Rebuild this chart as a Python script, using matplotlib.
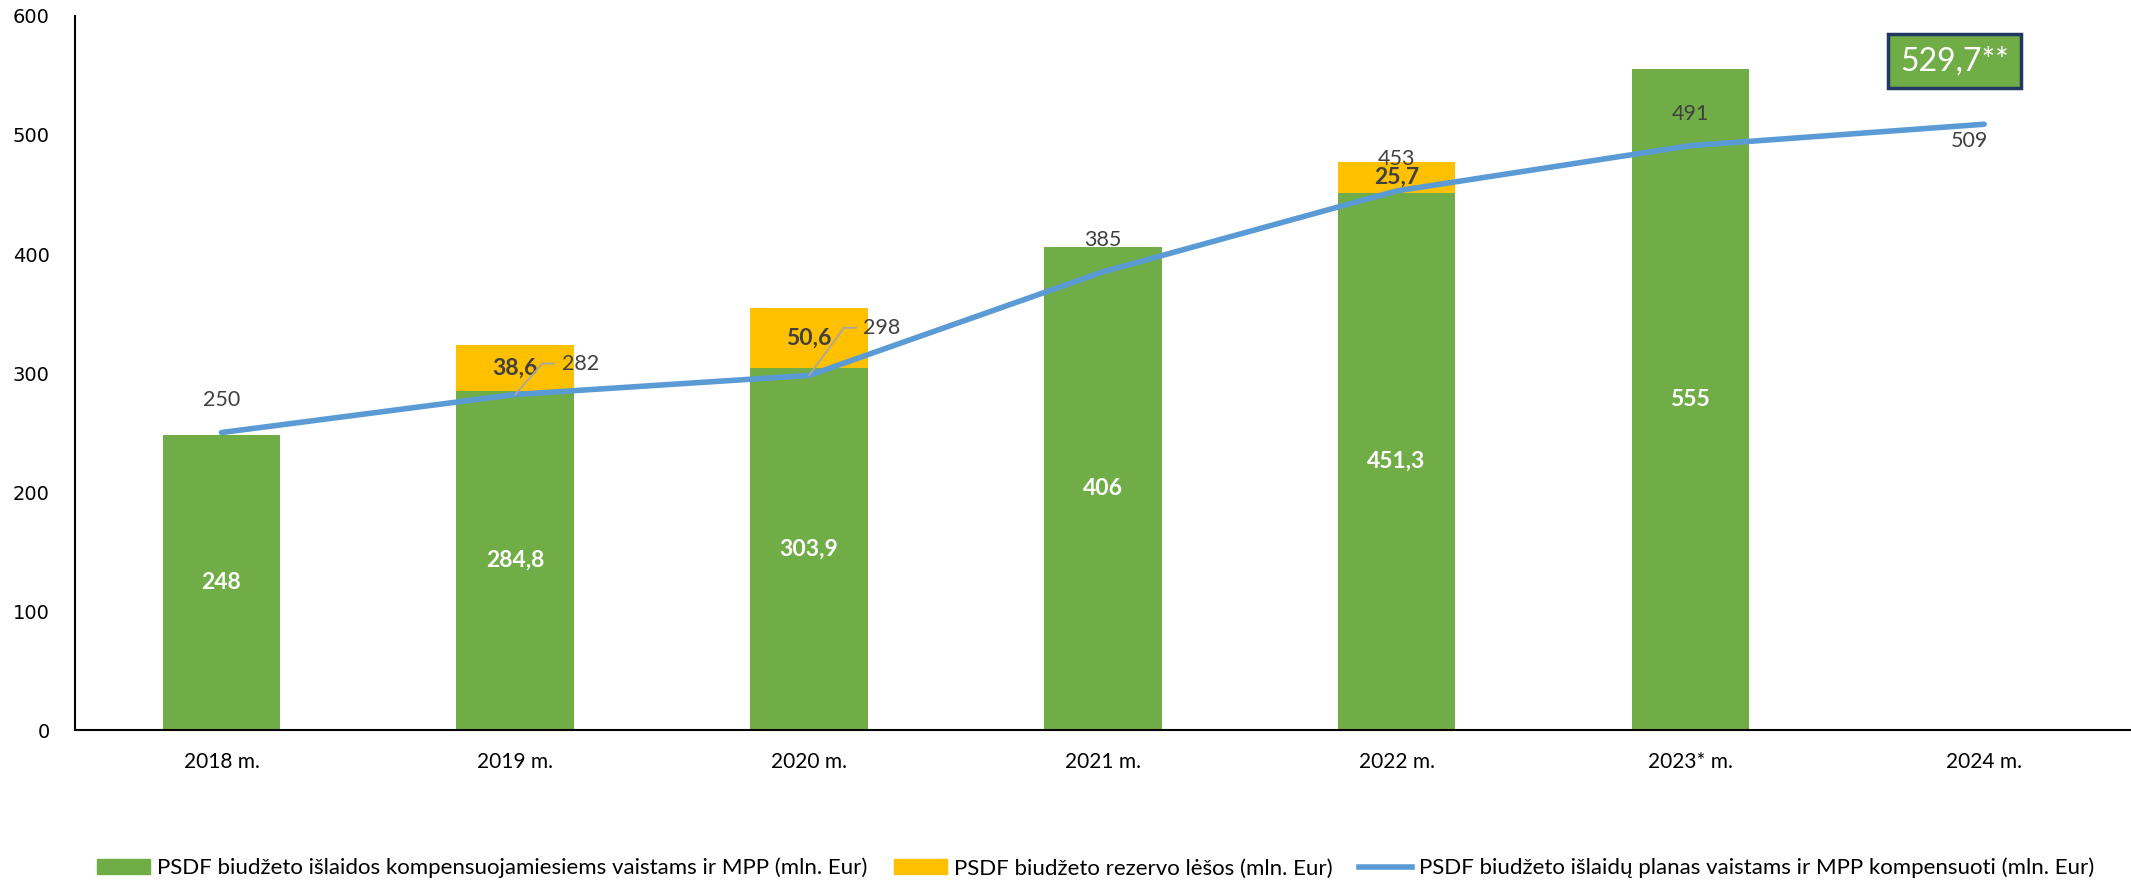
#!/usr/bin/env python3
import matplotlib
matplotlib.use("Agg")
import matplotlib.pyplot as plt
from matplotlib.patches import Patch
from matplotlib.lines import Line2D
import numpy as np

years = ['2018 m.', '2019 m.', '2020 m.', '2021 m.', '2022 m.', '2023* m.', '2024 m.']
islaidos = [248, 284.8, 303.9, 406, 451.3, 555, np.nan]
rezervas = [0, 38.6, 50.6, 0, 25.7, 0, 0]
planas = [250, 282, 298, 385, 453, 491, 509]
planas_2024_box = '529,7**'

GREEN = '#70AD47'
YELLOW = '#FFC000'
BLUE = '#5B9BD5'
DARK = '#404040'

plt.rcParams['font.family'] = ['Lato', 'DejaVu Sans']


def fmt(v):
    return f"{v:g}".replace('.', ',')


def main():
    fig = plt.figure(figsize=(21.31, 8.84), dpi=100)
    ax = fig.add_axes([0.035, 0.174, 0.965, 0.808])

    x = np.arange(len(years))
    green = np.nan_to_num(np.array(islaidos, dtype=float))
    ax.bar(x, green, width=0.4, color=GREEN, zorder=2)
    ax.bar(x, rezervas, width=0.4, bottom=green, color=YELLOW, zorder=2)
    ax.plot(x, planas, color=BLUE, lw=4, solid_capstyle='round', zorder=3)

    # labels inside the green bars
    for i, v in enumerate(islaidos):
        if np.isnan(v):
            continue
        ax.text(i, v / 2, fmt(v), ha='center', va='center', color='white',
                fontsize=16.5, fontweight='bold', zorder=4)

    # labels of the reserve part
    for i, r in enumerate(rezervas):
        if r:
            ax.text(i, green[i] + r / 2, fmt(r), ha='center', va='center',
                    color=DARK, fontsize=16.5, fontweight='bold', zorder=4)

    # line labels, two of them with leader lines
    leaders = {1: (0.092, 0.133, 26), 2: (0.119, 0.16, 40)}
    for i, v in enumerate(planas):
        if i in leaders:
            dx1, dx2, dy = leaders[i]
            ax.plot([i, i + dx1, i + dx2], [v, v + dy, v + dy], color='#A6A6A6',
                    lw=1.3, zorder=4)
            ax.text(i + dx2 + 0.025, v + dy, fmt(v), ha='left', va='center',
                    color=DARK, fontsize=15.5, zorder=4)
        elif i == len(planas) - 1:
            ax.text(i - 0.05, v - 14, fmt(v), ha='center', va='center',
                    color=DARK, fontsize=15.5, zorder=4)
        else:
            ax.text(i, v + 27, fmt(v), ha='center', va='center',
                    color=DARK, fontsize=15.5, zorder=4)

    ax.text(5.90, 562, planas_2024_box, ha='center', va='center', color='white',
            fontsize=23,
            bbox=dict(boxstyle='square,pad=0.38', fc=GREEN, ec='#1F3864', lw=2.5),
            zorder=5)

    ax.set_xlim(-0.5, 6.5)
    ax.set_ylim(0, 600)
    ax.set_yticks(range(0, 601, 100))
    ax.set_xticks(x)
    ax.set_xticklabels(years, fontsize=15)
    for lab in ax.get_yticklabels():
        lab.set_fontfamily('DejaVu Sans')
        lab.set_fontsize(14)
    ax.tick_params(axis='y', length=0, pad=18)
    ax.tick_params(axis='x', length=0, pad=16)
    for s in ['top', 'right']:
        ax.spines[s].set_visible(False)
    ax.spines['left'].set_linewidth(1.5)
    ax.spines['bottom'].set_linewidth(1.5)

    handles = [
        Patch(color=GREEN, label='PSDF biudžeto išlaidos kompensuojamiesiems vaistams ir MPP (mln. Eur)'),
        Patch(color=YELLOW, label='PSDF biudžeto rezervo lėšos (mln. Eur)'),
        Line2D([], [], color=BLUE, lw=4, label='PSDF biudžeto išlaidų planas vaistams ir MPP kompensuoti (mln. Eur)'),
    ]
    fig.legend(handles=handles, loc='center', bbox_to_anchor=(0.514, 0.018), ncol=3,
               frameon=False, fontsize=16, handlelength=2.4, handleheight=0.6,
               handletextpad=0.3, columnspacing=1.2)

    fig.savefig('out.png', dpi=100)


if __name__ == '__main__':
    main()
